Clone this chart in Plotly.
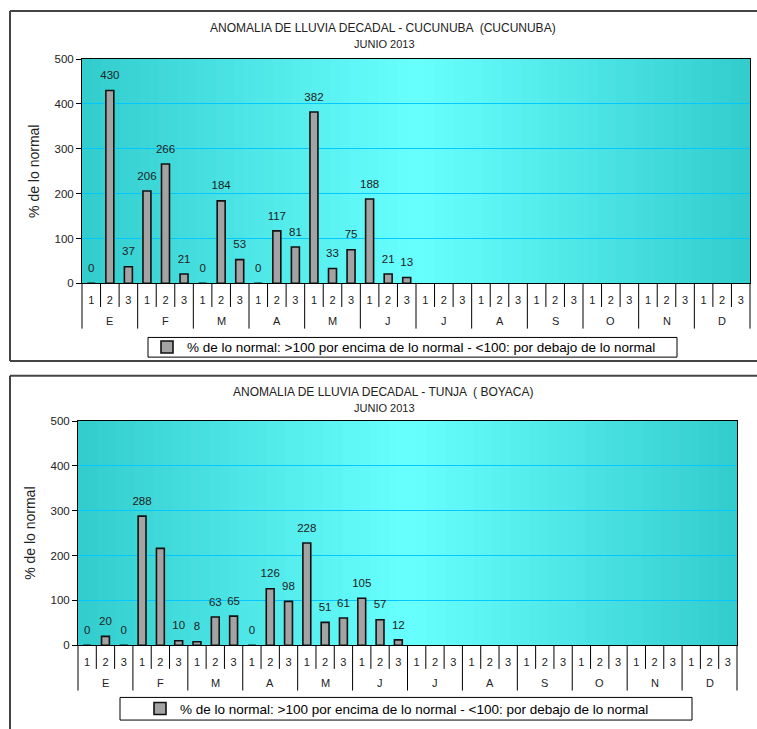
import plotly.graph_objects as go

# ---------------- data ----------------
months = ["E", "F", "M", "A", "M", "J", "J", "A", "S", "O", "N", "D"]
decades = ["1", "2", "3"]

cucunuba_values = [0, 430, 37, 206, 266, 21, 0, 184, 53, 0, 117, 81,
                   382, 33, 75, 188, 21, 13,
                   None, None, None, None, None, None, None, None, None,
                   None, None, None, None, None, None, None, None, None]
tunja_values = [0, 20, 0, 288, 216, 10, 8, 63, 65, 0, 126, 98,
                228, 51, 61, 105, 57, 12,
                None, None, None, None, None, None, None, None, None,
                None, None, None, None, None, None, None, None, None]
# bars that show no data label in the original
cucunuba_unlabeled = []
tunja_unlabeled = [4]

titles = ["ANOMALIA DE LLUVIA DECADAL - CUCUNUBA  (CUCUNUBA)",
          "ANOMALIA DE LLUVIA DECADAL - TUNJA  ( BOYACA)"]
subtitle = "JUNIO 2013"
legend_text = "% de lo normal: >100 por encima de lo normal - <100: por debajo de lo normal"
y_title = "% de lo normal"

# ---------------- layout helpers ----------------
W, H = 757, 729
FONT = "Liberation Sans, Arial, sans-serif"
TXT = "#222222"


def fx(p):
    return p / W


def fy(p):
    return 1 - p / H


n = len(months) * len(decades)
xpos = list(range(n))
tick_text = decades * len(months)

panels = [
    dict(values=cucunuba_values, unlabeled=cucunuba_unlabeled, title=titles[0],
         dx=(82, 750), dy=(54, 282), ty=(22, 39), leg=(148, 337, 677, 357),
         box=(10, 5, 361), xa="x", ya="y", legend="legend"),
    dict(values=tunja_values, unlabeled=tunja_unlabeled, title=titles[1],
         dx=(78, 737), dy=(422, 650), ty=(392, 409), leg=(120, 703, 692, 726),
         box=(10, 376, None), xa="x2", ya="y2", legend="legend2"),
]

fig = go.Figure()
shapes = []
annotations = []

edge = (51, 204, 204)
mid = (104, 255, 255)
NSTRIP = 70

for i, p in enumerate(panels):
    vals = p["values"]
    xs = [x for x, v in zip(xpos, vals) if v is not None]
    ys = [v for v in vals if v is not None]
    txt = ["" if k in p["unlabeled"] else str(v)
           for k, v in enumerate(vals) if v is not None]

    fig.add_trace(go.Bar(
        x=xs, y=ys, width=0.43, name=legend_text,
        marker=dict(color="#a3a3a3", line=dict(color="#111111", width=1.6)),
        xaxis=p["xa"], yaxis=p["ya"], legend=p["legend"], showlegend=True,
        hoverinfo="x+y"))
    fig.add_trace(go.Scatter(
        x=xs, y=ys, text=txt, mode="markers+text", textposition="top center",
        marker=dict(size=12, color="rgba(0,0,0,0)"),
        textfont=dict(size=11.5, color=TXT, family=FONT),
        xaxis=p["xa"], yaxis=p["ya"], showlegend=False, hoverinfo="skip",
        cliponaxis=False))

    # gradient background of plot area
    for s in range(NSTRIP):
        t = (s + 0.5) / NSTRIP
        w = 1 - abs(2 * t - 1)
        col = "rgb(%d,%d,%d)" % tuple(round(e + (m - e) * w) for e, m in zip(edge, mid))
        shapes.append(dict(type="rect", xref=p["xa"] + " domain", yref=p["ya"] + " domain",
                           x0=s / NSTRIP, x1=min(1, (s + 1.6) / NSTRIP), y0=0, y1=1,
                           fillcolor=col, line=dict(width=0), layer="below"))

    # category separators (decade ticks short, month dividers long)
    y_axis_px = p["dy"][1]
    for b in range(n + 1):
        length = 46 if b % 3 == 0 else 24
        shapes.append(dict(type="line", xref=p["xa"] + " domain", yref="paper",
                           x0=b / n, x1=b / n,
                           y0=fy(y_axis_px), y1=fy(y_axis_px + length),
                           line=dict(color="#000000", width=1)))
    # month labels
    for m, lab in enumerate(months):
        annotations.append(dict(text=lab, xref=p["xa"], yref=p["ya"], x=3 * m + 1, y=0,
                                yshift=-38, yanchor="middle", showarrow=False,
                                font=dict(size=11, color=TXT, family=FONT)))
    # titles
    annotations.append(dict(text=p["title"], xref="paper", yref="paper", x=fx(383),
                            y=fy(p["ty"][0]), yanchor="middle", showarrow=False,
                            font=dict(size=12, color=TXT, family=FONT)))
    annotations.append(dict(text=subtitle, xref="paper", yref="paper", x=fx(384),
                            y=fy(p["ty"][1]), yanchor="middle", showarrow=False,
                            font=dict(size=11, color=TXT, family=FONT)))
    # legend box
    lx0, ly0, lx1, ly1 = p["leg"]
    shapes.append(dict(type="rect", xref="paper", yref="paper",
                       x0=fx(lx0), x1=fx(lx1), y0=fy(ly1), y1=fy(ly0),
                       fillcolor="white", line=dict(color="#000000", width=1), layer="below"))
    # outer panel frame
    bx, by0, by1 = p["box"]
    shapes.append(dict(type="line", xref="paper", yref="paper", x0=fx(bx), x1=1.01,
                       y0=fy(by0), y1=fy(by0), line=dict(color="#444444", width=2)))
    shapes.append(dict(type="line", xref="paper", yref="paper", x0=fx(bx), x1=fx(bx),
                       y0=fy(by0), y1=fy(by1) if by1 else -0.02,
                       line=dict(color="#444444", width=2)))
    if by1:
        shapes.append(dict(type="line", xref="paper", yref="paper", x0=fx(bx), x1=1.01,
                           y0=fy(by1), y1=fy(by1), line=dict(color="#444444", width=2)))

axis_common_x = dict(range=[-0.5, n - 0.5], tickmode="array", tickvals=xpos,
                     ticktext=tick_text, ticks="", showgrid=False, zeroline=False,
                     showline=True, linecolor="#000000", linewidth=1, mirror=True,
                     tickfont=dict(size=11, color=TXT, family=FONT),
                     ticklabelstandoff=6, fixedrange=True)
axis_common_y = dict(range=[0, 500], tickmode="linear", tick0=0, dtick=100,
                     ticks="outside", ticklen=5, tickcolor="#000000",
                     showgrid=True, gridcolor="#00c8ff", gridwidth=1, zeroline=False,
                     showline=True, linecolor="#000000", linewidth=1, mirror=True,
                     tickfont=dict(size=11.5, color=TXT, family=FONT),
                     title=dict(text=y_title, font=dict(size=14, color=TXT, family=FONT),
                                standoff=11),
                     fixedrange=True)

p0, p1 = panels
fig.update_layout(
    width=W, height=H, autosize=False,
    margin=dict(l=0, r=0, t=0, b=0),
    paper_bgcolor="white", plot_bgcolor="rgba(0,0,0,0)",
    font=dict(family=FONT, color=TXT),
    xaxis=dict(domain=[fx(p0["dx"][0]), fx(p0["dx"][1])], anchor="y", **axis_common_x),
    yaxis=dict(domain=[fy(p0["dy"][1]), fy(p0["dy"][0])], anchor="x", **axis_common_y),
    xaxis2=dict(domain=[fx(p1["dx"][0]), fx(p1["dx"][1])], anchor="y2", **axis_common_x),
    yaxis2=dict(domain=[fy(p1["dy"][1]), fy(p1["dy"][0])], anchor="x2", **axis_common_y),
    legend=dict(x=fx(147), y=fy(347), xanchor="left", yanchor="middle",
                bgcolor="rgba(0,0,0,0)", borderwidth=0,
                font=dict(size=13.5, color="#000000", family=FONT)),
    legend2=dict(x=fx(140), y=fy(714.5), xanchor="left", yanchor="middle",
                 bgcolor="rgba(0,0,0,0)", borderwidth=0,
                 font=dict(size=13.5, color="#000000", family=FONT)),
    shapes=shapes, annotations=annotations,
    bargap=0.5, showlegend=True,
)

fig.write_html("out.html", config={"displayModeBar": False},
               post_script="document.body.style.margin='0px';"
                           "document.body.style.overflow='hidden';")
